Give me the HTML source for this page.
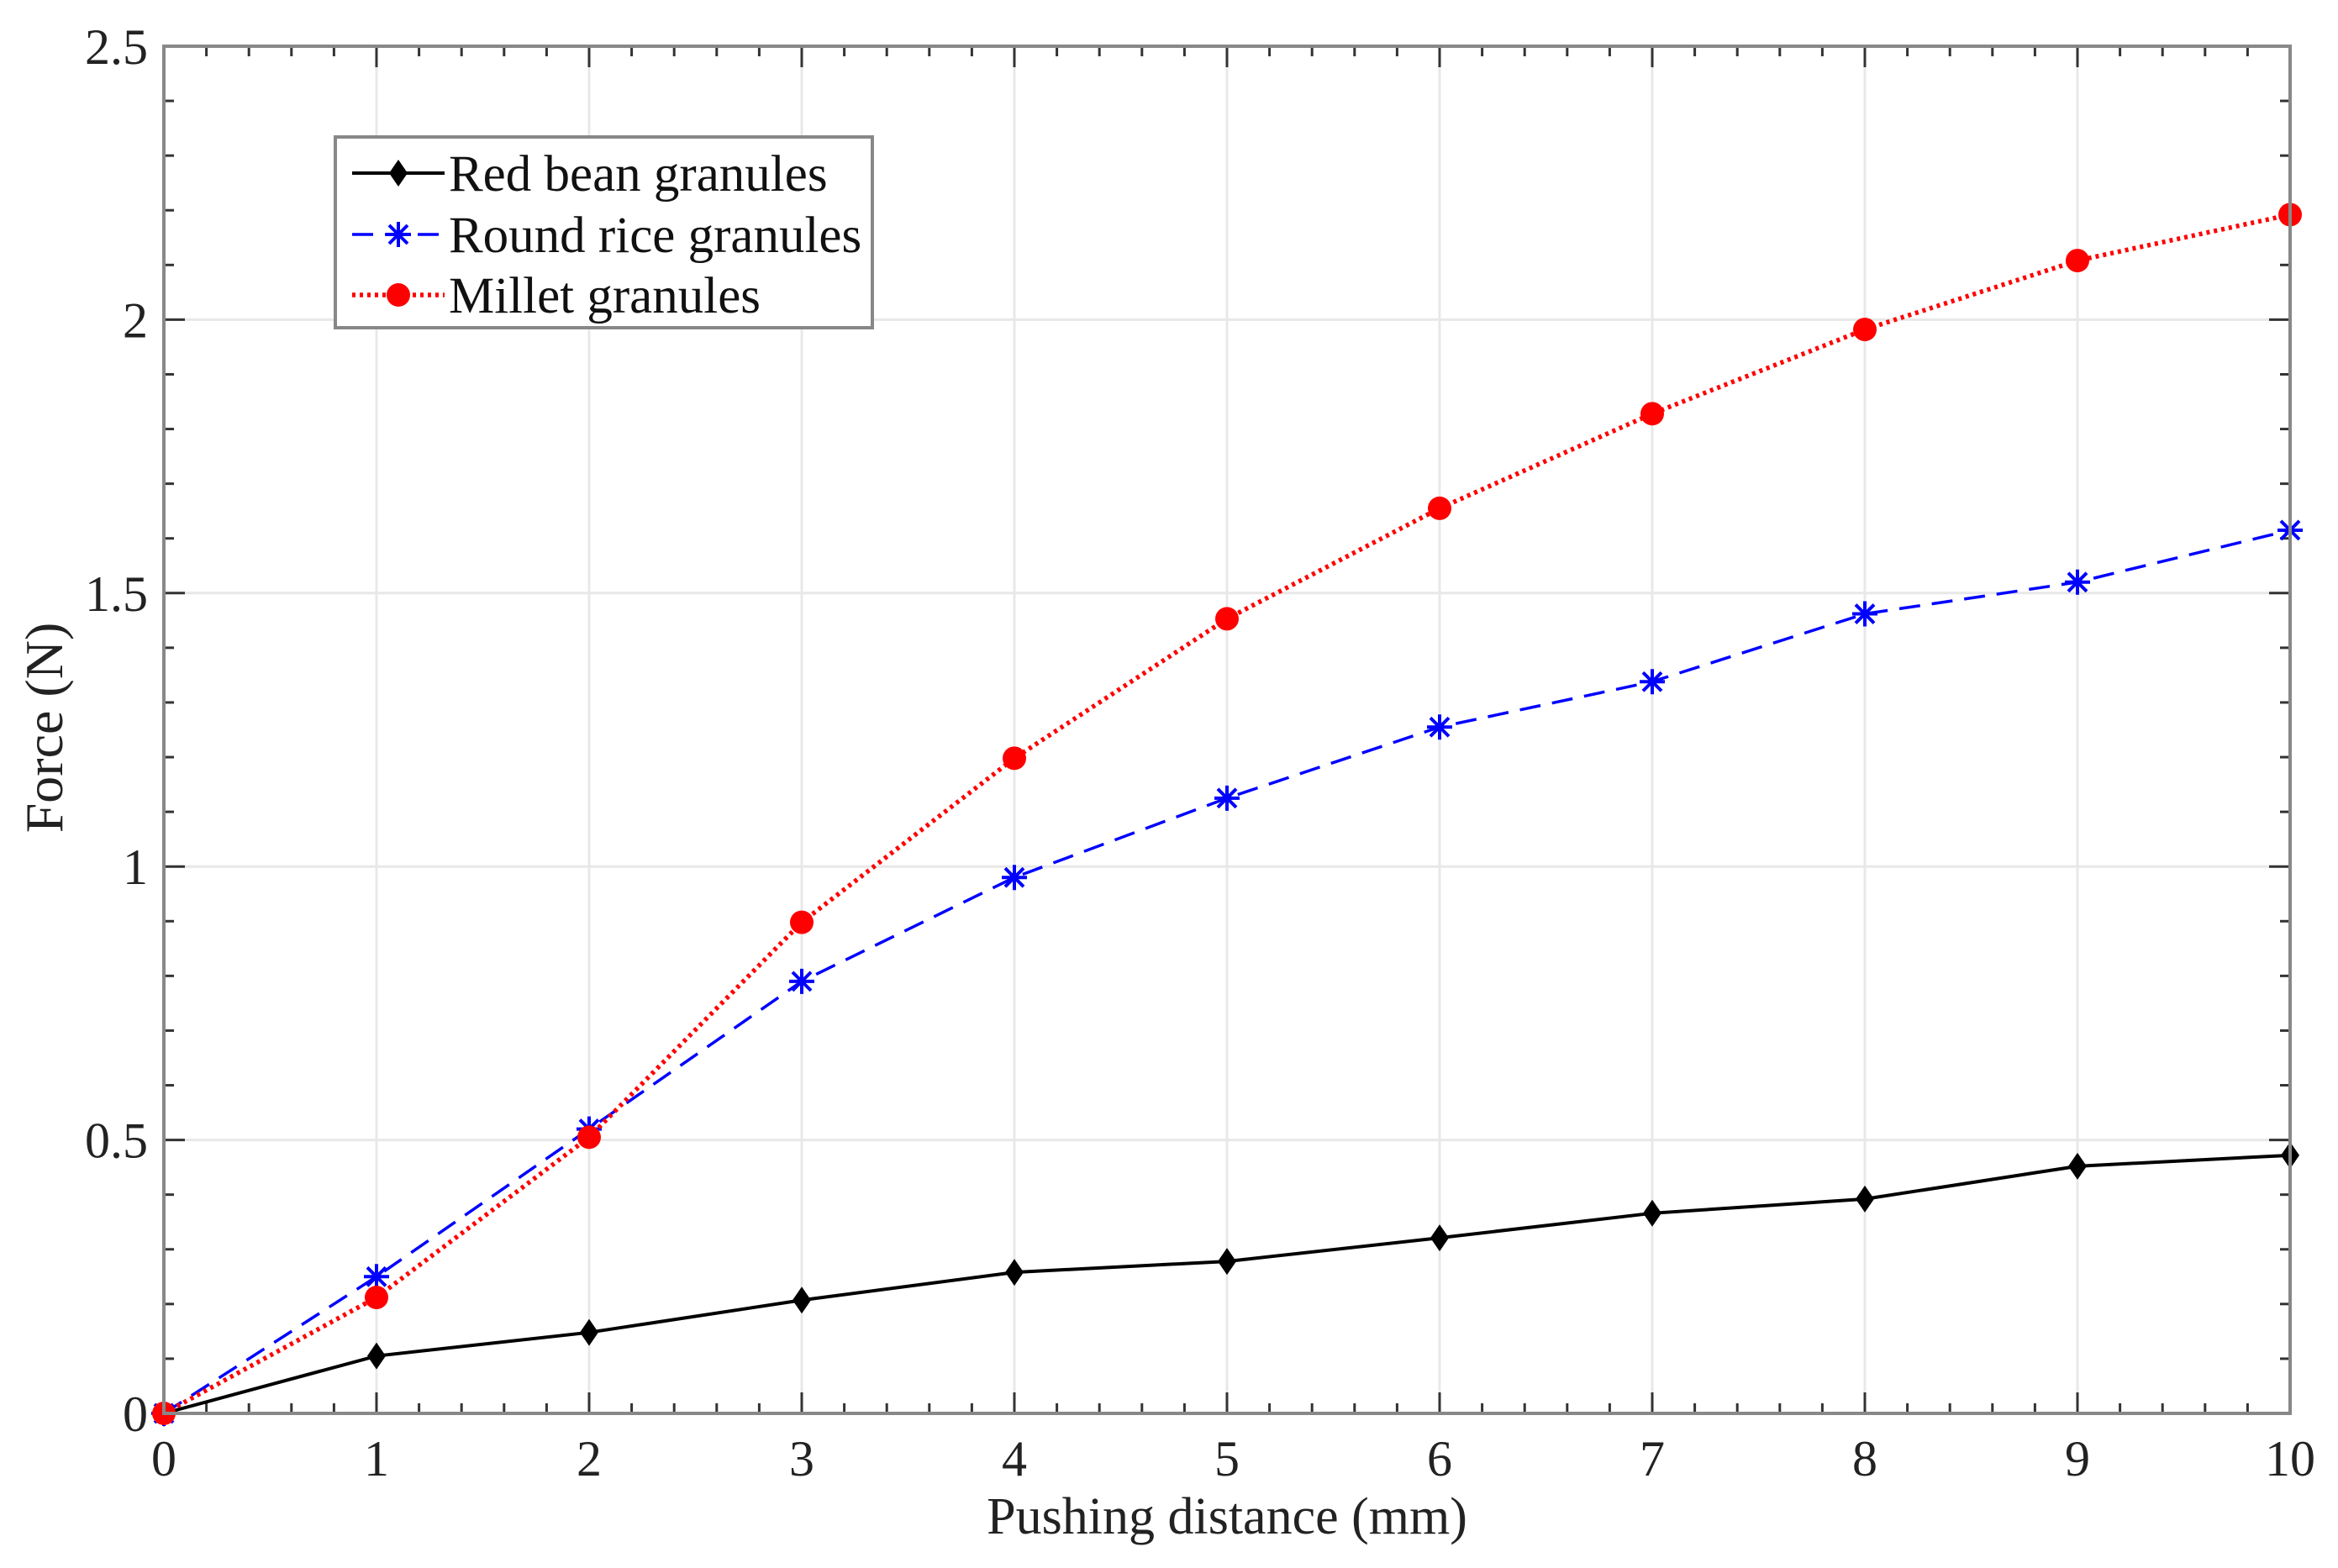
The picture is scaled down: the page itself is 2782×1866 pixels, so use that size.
<!DOCTYPE html>
<html><head><meta charset="utf-8"><style>
html,body{margin:0;padding:0;background:#fff;}
svg{display:block;font-family:"Liberation Serif",serif;}
</style></head><body>
<svg id="chart" width="2782" height="1866" viewBox="0 0 2782 1866" xmlns="http://www.w3.org/2000/svg">
<g id="grid"></g>
<g id="ticks"></g>
<g id="series"></g>
<rect x="195" y="55" width="2530" height="1627" fill="none" stroke="#888" stroke-width="4"/>
<g id="labels" font-size="60" fill="#222"></g>
<text x="1460" y="1825" font-size="62" text-anchor="middle" fill="#222">Pushing distance (mm)</text>
<text transform="translate(74,866) rotate(-90)" font-size="64" text-anchor="middle" fill="#222">Force (N)</text>
<g>
<rect x="399" y="163" width="639" height="227" fill="#fff" stroke="#888" stroke-width="4"/>
<g id="legend-items"></g>
</g>
</svg>
<script>
const xValues = [0,1,2,3,4,5,6,7,8,9,10];
const redBean = [0,0.105,0.148,0.207,0.258,0.278,0.321,0.366,0.392,0.452,0.472];
const roundRice = [0,0.25,0.52,0.79,0.98,1.125,1.255,1.338,1.462,1.52,1.615];
const millet = [0,0.212,0.505,0.898,1.198,1.453,1.655,1.828,1.982,2.108,2.192];
const xTicks = [0,1,2,3,4,5,6,7,8,9,10];
const yTicks = [0,0.5,1,1.5,2,2.5];
const yTickLabels = ["0","0.5","1","1.5","2","2.5"];
const seriesNames = ["Red bean granules","Round rice granules","Millet granules"];

const NS="http://www.w3.org/2000/svg";
const L=195,R=2725,T=55,B=1682;
const sx=v=>L+(v-0)/(10-0)*(R-L);
const sy=v=>B-(v-0)/(2.5-0)*(B-T);
function mk(tag,attrs,parent){const e=document.createElementNS(NS,tag);for(const k in attrs)e.setAttribute(k,attrs[k]);parent.appendChild(e);return e;}
const grid=document.getElementById('grid'),ticks=document.getElementById('ticks'),labels=document.getElementById('labels'),series=document.getElementById('series');

xTicks.forEach(v=>{
  const x=sx(v);
  const g=mk('line',{x1:x,x2:x,y1:T,y2:B,stroke:'#e8e8e8','stroke-width':3},grid);
  
  
  const t=mk('text',{x:x,y:1756,'text-anchor':'middle'},labels);
  t.textContent=String(v);
  
  
});
yTicks.forEach((v,i)=>{
  const y=sy(v);
  const g=mk('line',{x1:L,x2:R,y1:y,y2:y,stroke:'#e8e8e8','stroke-width':3},grid);
  
  
  const t=mk('text',{x:176,y:y+21,'text-anchor':'end'},labels);
  t.textContent=yTickLabels[i];
  
  
});
for(let k=0;k<=50;k++){
  const v=k*0.2, x=sx(v), len=(k%5===0)?25:12;
  const a=mk('line',{x1:x,x2:x,y1:B,y2:B-len,stroke:'#333','stroke-width':3},ticks);
  
  
  const b=mk('line',{x1:x,x2:x,y1:T,y2:T+len,stroke:'#333','stroke-width':3},ticks);
  
  
}
for(let k=0;k<=25;k++){
  const v=k*0.1, y=sy(v), len=(k%5===0)?25:12;
  const a=mk('line',{x1:L,x2:L+len,y1:y,y2:y,stroke:'#333','stroke-width':3},ticks);
  
  
  const b=mk('line',{x1:R,x2:R-len,y1:y,y2:y,stroke:'#333','stroke-width':3},ticks);
  
  
}
function marker(kind,x,y,parent){
  let m;
  if(kind==='diamond'){m=mk('path',{d:`M${x} ${y-16}L${x+11} ${y}L${x} ${y+16}L${x-11} ${y}Z`,fill:'#000'},parent);}
  else if(kind==='star'){m=mk('path',{d:`M${x-15} ${y}H${x+15}M${x} ${y-15}V${y+15}M${x-11} ${y-11}L${x+11} ${y+11}M${x-11} ${y+11}L${x+11} ${y-11}`,stroke:'#00f','stroke-width':4,fill:'none'},parent);}
  else {m=mk('circle',{cx:x,cy:y,r:14,fill:'#f00'},parent);}
  return m;
}
const defs=[
  {data:redBean,color:'#000',dash:'none',w:4,mk:'diamond',name:'red-bean'},
  {data:roundRice,color:'#00f',dash:'25 14',w:3.5,mk:'star',name:'round-rice'},
  {data:millet,color:'#f00',dash:'4 5',w:5.5,mk:'circle',name:'millet'}
];
defs.forEach((s,si)=>{
  const pts=s.data.map((v,i)=>sx(xValues[i])+','+sy(v)).join(' ');
  const pl=mk('polyline',{points:pts,fill:'none',stroke:s.color,'stroke-width':s.w,'stroke-dasharray':s.dash},series);
  
  
  s.data.forEach((v,i)=>{
    const m=marker(s.mk,sx(xValues[i]),sy(v),series);
    
    
  });
  const li=document.getElementById('legend-items');
  const y=[206,279,351][si];
  const ln=mk('line',{x1:419,x2:529,y1:y,y2:y,stroke:s.color,'stroke-width':s.w,'stroke-dasharray':s.dash},li);
  
  
  const lm=marker(s.mk,474,y,li);
  
  
  const t=mk('text',{x:534,y:y+21,'font-size':61,fill:'#111'},li);
  t.textContent=seriesNames[si];
  
  
});
</script>
</body></html>
